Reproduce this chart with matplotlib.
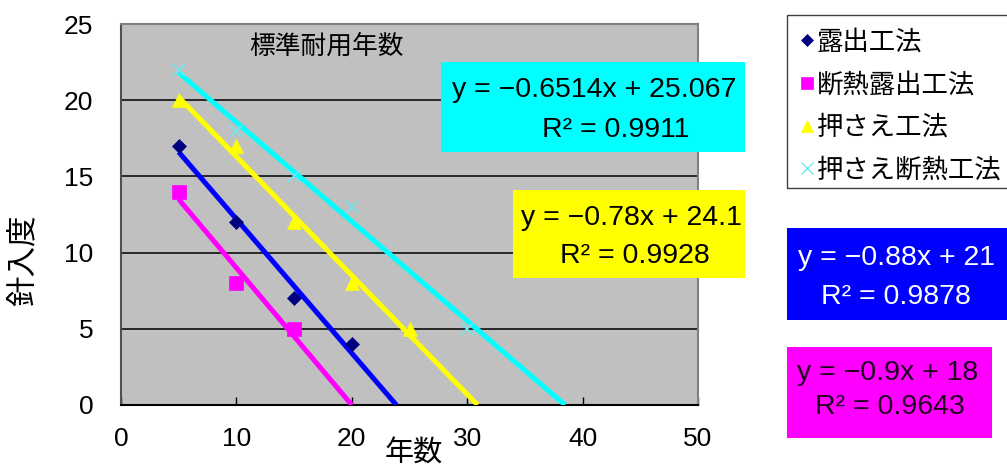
import numpy as np
import matplotlib.pyplot as plt
from matplotlib.lines import Line2D
from matplotlib.patches import Rectangle

plt.rcParams['font.family'] = ['Liberation Sans', 'Noto Sans CJK JP', 'DejaVu Sans']

# penetration vs. years for each roofing method
names = ['露出工法', '断熱露出工法', '押さえ工法', '押さえ断熱工法']
x_roshutsu = [5, 10, 15, 20]
y_roshutsu = [17, 12, 7, 4]
x_dannetsu = [5, 10, 15]
y_dannetsu = [14, 8, 5]
x_osae = [5, 10, 15, 20, 25]
y_osae = [20, 17, 12, 8, 5]
x_osae_dan = [5, 10, 15, 20, 30]
y_osae_dan = [22, 18, 15, 13, 5]

# linear trendlines (slope, intercept, R^2)
slopes = [-0.88, -0.9, -0.78, -0.6514]
intercepts = [21, 18, 24.1, 25.067]
r2 = [0.9878, 0.9643, 0.9928, 0.9911]

xs = [x_roshutsu, x_dannetsu, x_osae, x_osae_dan]
ys = [y_roshutsu, y_dannetsu, y_osae, y_osae_dan]
markers = ['D', 's', '^', 'x']
marker_colors = ['#000080', '#ff00ff', '#ffff00', '#70e8f0']
marker_sizes = [7, 10, 10, 9]
line_colors = ['#0000ff', '#ff00ff', '#ffff00', '#00ffff']

W, H = 1007, 470
fig = plt.figure(figsize=(W / 100, H / 100), dpi=100)
ax = fig.add_axes([121 / W, 65 / H, 577 / W, 381 / H])
ax.set_facecolor('#c0c0c0')

for i in range(4):
    x0 = min(xs[i])
    x1 = -intercepts[i] / slopes[i]
    tx = np.array([x0, x1])
    ax.plot(tx, slopes[i] * tx + intercepts[i], color=line_colors[i], lw=3.6,
            solid_capstyle='butt', zorder=3)
    ax.plot(xs[i], ys[i], linestyle='none', marker=markers[i],
            color=marker_colors[i], markersize=marker_sizes[i],
            markeredgewidth=1.2 if markers[i] == 'x' else 0.5, zorder=4)

ax.set_xlim(0, 50)
ax.set_ylim(0, 25)
ax.set_xticks([0, 10, 20, 30, 40, 50])
ax.set_yticks([0, 5, 10, 15, 20, 25])
ax.yaxis.grid(True, color='black', lw=1.1)
ax.set_axisbelow(True)
ax.tick_params(axis='x', direction='in', length=6, width=1, pad=16,
               labelsize=19, color='black')
ax.tick_params(axis='y', length=0, pad=20, labelsize=19)
ax.spines['bottom'].set_color('black')
ax.spines['bottom'].set_linewidth(1.5)
ax.spines['left'].set_color('#505050')
ax.spines['left'].set_linewidth(1.5)
for s in ['top', 'right']:
    ax.spines[s].set_color('#808080')
    ax.spines[s].set_linewidth(1.5)

ax.set_xlabel('年数', fontsize=21)
ax.xaxis.set_label_coords(0.508, -0.092)
ax.set_ylabel('針入度', fontsize=22)
ax.yaxis.set_label_coords(-0.142, 0.38)
ax.text(0.222, 0.94, '標準耐用年数', transform=ax.transAxes, fontsize=18.5,
        ha='left', va='center')

# legend on the right, frame drawn separately so it runs off the edge
handles = [Line2D([], [], linestyle='none', marker=markers[i],
                  color=marker_colors[i], markersize=[6, 9, 8, 8][i],
                  markeredgewidth=1 if markers[i] == 'x' else 0.5)
           for i in range(4)]
fig.legend(handles, names, loc='upper left',
           bbox_to_anchor=(787 / W, 1 - 15 / H), fontsize=19,
           handlelength=0.45, handletextpad=0.12, borderpad=0.55,
           labelspacing=0.68, borderaxespad=0, frameon=False)
fig.add_artist(Rectangle((787 / W, 1 - 188 / H), 230 / W, 173 / H,
                         transform=fig.transFigure, facecolor='none',
                         edgecolor='#404040', lw=1))

# equation boxes: (x0, y0, x1, y1) in pixels from top-left, line centres
boxes = [
    (787, 228, 1007, 320, [896, 896], [258, 297], 'white'),
    (787, 347, 992, 438, [888, 890], [373, 407], '#200020'),
    (513, 190, 745, 278, [631, 635], [218, 256], 'black'),
    (441, 62, 745, 152, [594, 616], [90, 130], 'black'),
]
for i, (bx0, by0, bx1, by1, cx, cy, tc) in enumerate(boxes):
    fig.add_artist(Rectangle((bx0 / W, 1 - by1 / H), (bx1 - bx0) / W,
                             (by1 - by0) / H, transform=fig.transFigure,
                             facecolor=line_colors[i], edgecolor='none',
                             zorder=5))
    eq = 'y = −{:g}x + {:g}'.format(abs(slopes[i]), intercepts[i])
    r = 'R² = {:g}'.format(r2[i])
    fig.text(cx[0] / W, 1 - cy[0] / H, eq, fontsize=20.5, color=tc,
             ha='center', va='center', zorder=6)
    fig.text(cx[1] / W, 1 - cy[1] / H, r, fontsize=20.5, color=tc,
             ha='center', va='center', zorder=6)

fig.savefig('out.png', dpi=100)
